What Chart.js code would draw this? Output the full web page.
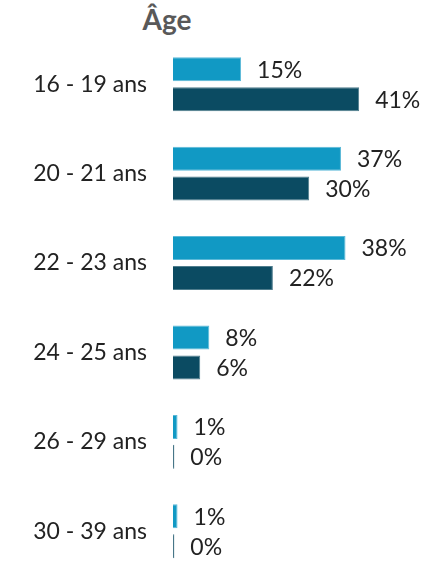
<!DOCTYPE html>
<html>
<head>
<meta charset="utf-8">
<script src="https://cdn.jsdelivr.net/npm/chart.js@4"></script>
<style>
  html, body { margin: 0; padding: 0; background: #fff; overflow: hidden; }
  #wrap { position: relative; width: 428px; height: 562px; overflow: hidden; }
  #title { position: absolute; top: 2px; left: 0; width: 334px; text-align: center;
           font: bold 28px Lato, sans-serif; line-height: 34px; color: #595959; }
  #box { position: absolute; top: 0; left: 0; width: 428px; height: 576px; }
</style>
</head>
<body>
<div id="wrap">
  <div id="title">Âge</div>
  <div id="box"><canvas id="chart"></canvas></div>
</div>
<script>
// categories and the two series (percent)
const categories = ['16 - 19 ans', '20 - 21 ans', '22 - 23 ans', '24 - 25 ans', '26 - 29 ans', '30 - 39 ans'];
const serieA = [15, 37, 38, 8, 1, 1];
const serieB = [41, 30, 22, 6, 0.3, 0.3];
const xMax = 50;

const FONT = 'Lato, sans-serif';

// draws the "15%" style labels to the right of each bar
const barLabels = {
  id: 'barLabels',
  afterDatasetsDraw(chart) {
    const ctx = chart.ctx;
    ctx.save();
    ctx.font = '23px ' + FONT;
    ctx.fillStyle = '#222';
    ctx.textBaseline = 'middle';
    ctx.textAlign = 'left';
    chart.data.datasets.forEach((ds, i) => {
      chart.getDatasetMeta(i).data.forEach((bar, j) => {
        ctx.fillText(Math.round(ds.data[j]) + '%', bar.x + 16, bar.y + 1);
      });
    });
    ctx.restore();
  }
};

const ctx = document.getElementById('chart');
const myChart = new Chart(ctx, {
  type: 'bar',
  data: {
    labels: categories,
    datasets: [{
      data: serieA,
      backgroundColor: '#1199c4',
      borderColor: '#5bb9d8',
      borderWidth: 1,
      borderSkipped: 'start'
    }, {
      data: serieB,
      backgroundColor: '#0b4b62',
      borderColor: '#4f7d8d',
      borderWidth: 1,
      borderSkipped: 'start'
    }]
  },
  options: {
    indexAxis: 'y',
    responsive: true,
    maintainAspectRatio: false,
    animation: false,
    categoryPercentage: 0.67,
    barPercentage: 0.8,
    layout: { padding: { top: 39.5, right: 28, left: 0, bottom: 0 } },
    plugins: {
      legend: { display: false },
      tooltip: { enabled: false }
    },
    scales: {
      x: { display: false, min: 0, max: xMax },
      y: {
        grid: { display: false, drawTicks: false },
        border: { display: false },
        ticks: { padding: 26, color: '#222', font: { family: FONT, size: 23 } },
        afterFit(scale) {
          scale.width = 173;
          // tick padding otherwise eats space above/below the bands
          scale.paddingTop = 0;
          scale.paddingBottom = 0;
        }
      }
    }
  },
  plugins: [barLabels]
});
</script>
</body>
</html>
